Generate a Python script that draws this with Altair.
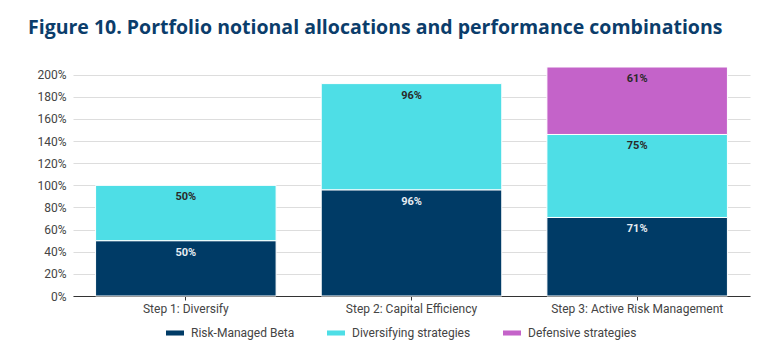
import altair as alt
import pandas as pd

steps = ["Step 1: Diversify", "Step 2: Capital Efficiency", "Step 3: Active Risk Management"]
series = ["Risk-Managed Beta", "Diversifying strategies", "Defensive strategies"]
risk_managed_beta = [50, 96, 71]
diversifying = [50, 96, 75]
defensive = [0, 0, 61]
colors = ["#003B66", "#4EDEE6", "#C463C9"]
label_colors = ["#E6ECF2", "#2A2A2A", "#2A2A2A"]
y_ticks = [0, 20, 40, 60, 80, 100, 120, 140, 160, 180, 200]

rows = []
for i, s in enumerate(steps):
    for j, (name, vals) in enumerate(zip(series, [risk_managed_beta, diversifying, defensive])):
        if vals[i] > 0:
            rows.append({"step": s, "series": name, "value": vals[i], "order": j,
                         "label": f"{vals[i]}%", "lc": label_colors[j]})
df = pd.DataFrame(rows)

FONT = "Roboto"

x_axis = alt.Axis(labelAngle=0, labelFontSize=12, labelColor="#444", labelFont=FONT,
                  domainColor="#333", tickColor="#333", tickSize=4, labelPadding=3,
                  grid=False)
y_axis = alt.Axis(values=y_ticks, labelExpr="datum.value + '%'", labelFontSize=12,
                  labelColor="#444", labelFont=FONT, domain=False, ticks=False,
                  gridColor="#DDDDDD", labelPadding=7, labelOverlap=False)
x_scale = alt.Scale(paddingInner=0.2, paddingOuter=0.1)
y_scale = alt.Scale(domain=[0, 207], nice=False)

base = alt.Chart(df).transform_stack(
    stack="value", groupby=["step"], as_=["v0", "v1"],
    sort=[alt.SortField("order", order="ascending")]
)

bars = base.mark_bar(stroke="white", strokeWidth=1).encode(
    x=alt.X("step:N", sort=steps, title=None, scale=x_scale, axis=x_axis),
    y=alt.Y("v0:Q", title=None, scale=y_scale, axis=y_axis),
    y2="v1:Q",
    color=alt.Color("series:N", sort=series,
                    scale=alt.Scale(domain=series, range=colors),
                    legend=alt.Legend(title=None, orient="none", direction="horizontal",
                                      legendX=93, legendY=257,
                                      symbolType="M-1,-0.28H1V0.28H-1Z", symbolSize=324,
                                      symbolStrokeWidth=0, labelFontSize=12, labelFont=FONT,
                                      labelColor="#444", columnPadding=32, labelOffset=7)),
)

labels = base.mark_text(baseline="middle", dy=12, fontSize=11, fontWeight="bold", font=FONT).encode(
    x=alt.X("step:N", sort=steps, title=None, scale=x_scale, axis=x_axis),
    y=alt.Y("v1:Q", title=None, scale=y_scale, axis=y_axis),
    text="label:N",
    color=alt.Color("lc:N", scale=None),
)

chart = alt.layer(bars, labels).properties(
    width=677, height=229,
    title=alt.TitleParams("Figure 10. Portfolio notional allocations and performance combinations",
                          anchor="start", frame="group", dx=-45, offset=28, fontSize=19.5,
                          font="Open Sans", fontWeight="bold", color="#0B3D6B"),
    autosize=alt.AutoSizeParams(type="none"),
    padding={"left": 73, "top": 67, "right": 20, "bottom": 56},
).configure_view(stroke=None)

chart.save("out.html", embed_options={"renderer": "svg", "actions": False})
